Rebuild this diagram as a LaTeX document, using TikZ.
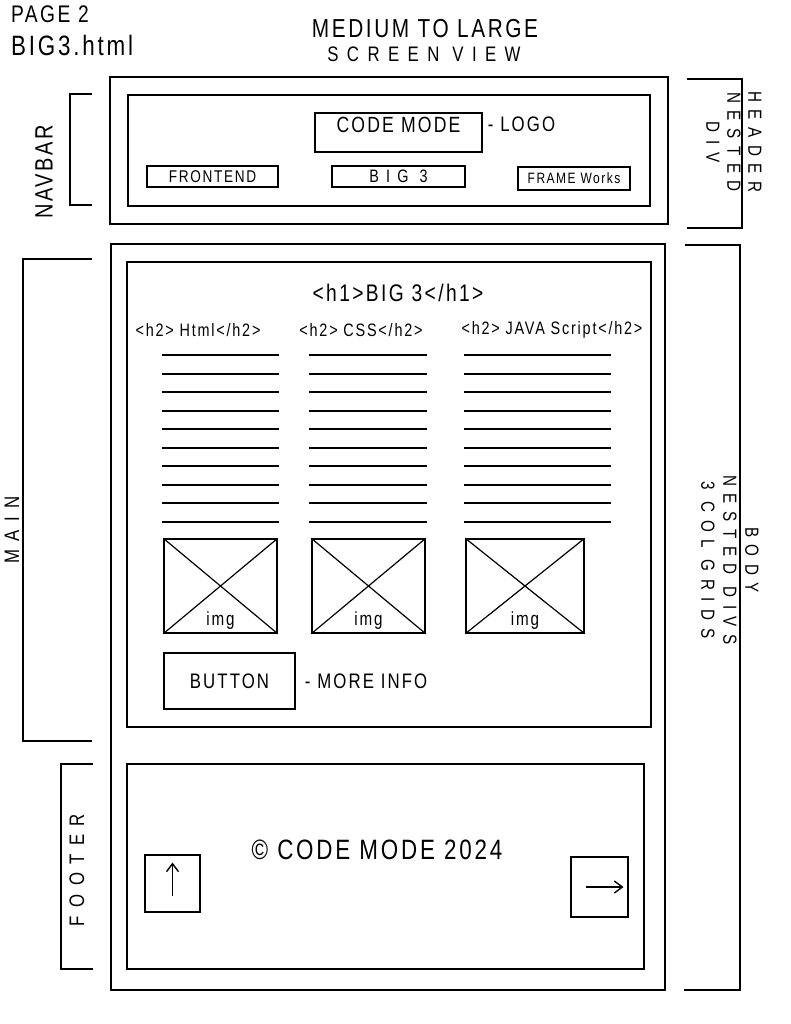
\documentclass[tikz,border=0pt]{standalone}
\usepackage{fontspec}
\setmainfont{Liberation Sans}
\newfontfamily\hand[LetterSpace=10, FakeStretch=0.8]{Liberation Sans}
\newfontfamily\handwide[LetterSpace=40, FakeStretch=0.8]{Liberation Sans}
\usetikzlibrary{positioning, arrows.meta, calc}

\begin{document}
\begin{tikzpicture}[
    x=1pt, y=-1pt,
    frame/.style={draw, line width=1.5pt, rectangle, inner sep=0pt},
    lbl/.style={inner sep=1pt, font=\hand\fontsize{#1}{#1}\selectfont},
    lbl/.default=18,
    wide/.style={inner sep=1pt, font=\handwide\fontsize{#1}{#1}\selectfont},
    txtline/.style={line width=2pt},
    brk/.style={line width=1.3pt},
    arr/.style={line width=1.4pt, -{Straight Barb[length=8pt, width=12pt]}}
]
    \useasboundingbox (0,0) rectangle (791,1024);

    % Page titles
    \node[lbl=24, anchor=west] (page) at (10,14) {PAGE 2};
    \node[lbl=28, anchor=west] (file) at (10,45) {BIG3.html};
    \node[lbl=26] (title) at (425,29) {MEDIUM TO LARGE};
    \node[wide=21] (subtitle) at (424,54) {SCREEN VIEW};

    % Header / navbar
    \node[frame, minimum width=558pt, minimum height=147pt] (hdr) at (389,150.5) {};
    \node[frame, minimum width=522pt, minimum height=111pt] (hdrin) at (389,150.5) {};
    \node[frame, minimum width=167pt, minimum height=39pt] (logo) at (398.5,132.5) {};
    \node[lbl=22] (logotxt) at ([yshift=8pt]logo.center) {CODE MODE};
    \node[lbl=21, right=4pt of logo, yshift=8pt] (logotag) {- LOGO};
    \node[frame, minimum width=131pt, minimum height=21pt, lbl=17] (front) at (212.5,176.5) {FRONTEND};
    \node[frame, minimum width=133pt, minimum height=21pt, wide=18] (big3) at (398.5,176.5) {BIG 3};
    \node[frame, minimum width=112pt, minimum height=23pt, lbl=15] (fw) at (574,178.5) {FRAME Works};

    % Body
    \node[frame, minimum width=554pt, minimum height=746pt] (body) at (388,617) {};
    \node[frame, minimum width=524pt, minimum height=465pt] (main) at (389,494.5) {};
    \node[frame, minimum width=517pt, minimum height=205pt] (foot) at (385.5,866.5) {};

    % Headings
    \node[lbl=24] (h1) at (398,293) {<h1>BIG 3</h1>};
    \node[lbl=18] (h2a) at (198,330) {<h2> Html</h2>};
    \node[lbl=18] (h2b) at (361,330) {<h2> CSS</h2>};
    \node[lbl=18] (h2c) at (552,330) {<h2> JAVA Script</h2>};

    % Text lines in the 3 columns
    \foreach \i in {0,...,9} {
        \draw[txtline] (162,{355+18.5*\i}) -- (279,{355+18.5*\i});
        \draw[txtline] (309,{355+18.5*\i}) -- (427,{355+18.5*\i});
        \draw[txtline] (464,{355+18.5*\i}) -- (611,{355+18.5*\i});
    }

    % Image placeholders
    \foreach \idx/\cx/\w in {1/220.5/113, 2/368.5/113, 3/525/118} {
        \node[frame, minimum width=\w pt, minimum height=94pt] (img\idx) at (\cx,586) {};
        \draw[line width=1.2pt] (img\idx.north west) -- (img\idx.south east)
                                (img\idx.north east) -- (img\idx.south west);
        \node[lbl=19, above=3pt of img\idx.south] (imgtxt\idx) {img};
    }

    % Button
    \node[frame, minimum width=131pt, minimum height=56pt, lbl=21] (button) at (229.5,681) {BUTTON};
    \node[lbl=21, right=8pt of button] (btntag) {- MORE INFO};

    % Footer content
    \node[lbl=28] (copy) at (377,850) {© CODE MODE 2024};
    \node[frame, minimum width=55pt, minimum height=57pt] (upbox) at (172.5,883.5) {};
    \node[frame, minimum width=57pt, minimum height=60pt] (nextbox) at (599.5,887) {};
    \draw[arr] ([yshift=-12pt]upbox.center) -- ([yshift=21pt]upbox.center);
    \draw[arr] ([xshift=-14pt]nextbox.center) -- ([xshift=24pt]nextbox.center);

    % Side brackets
    \draw[brk] (92,94) -- (70,94) -- (70,205) -- (92,205);
    \node[lbl=25, rotate=90] (navlbl) at (44,172) {NAVBAR};
    \draw[brk] (92,259) -- (23,259) -- (23,741) -- (92,741);
    \node[wide=21, rotate=90] (mainlbl) at (12,530) {MAIN};
    \draw[brk] (93,764) -- (61,764) -- (61,969) -- (93,969);
    \node[wide=21, rotate=90] (footlbl) at (77,870) {FOOTER};
    \draw[brk] (687,79) -- (742,79) -- (742,228) -- (687,228);
    \node[rotate=-90, align=center, inner sep=1pt, font=\handwide\fontsize{19}{21}\selectfont] (hdrlbl) at (734,142) {HEADER\\NESTED\\DIV};
    \draw[brk] (685,245) -- (740,245) -- (740,990) -- (684,990);
    \node[rotate=-90, align=center, inner sep=1pt, font=\handwide\fontsize{19}{22}\selectfont] (bodylbl) at (730,560) {BODY\\NESTED DIVS\\3 COL GRIDS};
\end{tikzpicture}
\end{document}
